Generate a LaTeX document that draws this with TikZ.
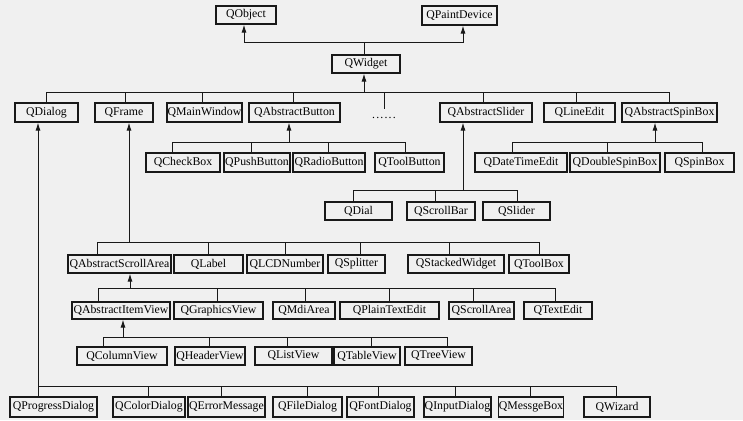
\documentclass[tikz,border=0pt]{standalone}
\usepackage{fontspec}
\setmainfont{Liberation Serif}
\usetikzlibrary{arrows.meta}
\newcommand\clsbox[6]{\node[cls, minimum width={#3pt-#2pt}, minimum height={#5pt-#4pt}] (#1) at ({(#2+#3)/2},{(#4+#5)/2}) {#6};}
\begin{document}
\begin{tikzpicture}[x=1pt,y=-1pt,
  cls/.style={draw=black!90, line width=1.1pt, inner sep=0pt, font=\fontsize{11.8}{13}\selectfont, text=black},
  link/.style={draw=black!90, line width=1pt},
  inh/.style={link, -{Latex[length=8pt,width=5pt]}}]
\fill[white!94!black] (0,0) rectangle (743,420);
\useasboundingbox (0,0) rectangle (743,420);
% top
\clsbox{QObject}{216}{276}{6}{24}{QObject}
\clsbox{QPaintDevice}{422}{497}{6}{25}{QPaintDevice}
\clsbox{QWidget}{332}{400}{55}{73}{QWidget}
% row 1
\clsbox{QDialog}{15}{78}{103}{122}{QDialog}
\clsbox{QFrame}{95}{153}{103}{122}{QFrame}
\clsbox{QMainWindow}{167}{242}{103}{122}{QMainWindow}
\clsbox{QAbstractButton}{249}{340}{103}{122}{QAbstractButton}
\clsbox{QAbstractSlider}{440}{532}{103}{122}{QAbstractSlider}
\clsbox{QLineEdit}{544}{615}{103}{122}{QLineEdit}
\clsbox{QAbstractSpinBox}{622}{717}{103}{122}{QAbstractSpinBox}
\node[font=\fontsize{11.8}{13}\selectfont, text=black, inner sep=0pt, anchor=base] (more) at (384,118) {.\kern1.2pt.\kern1.2pt.\kern1.2pt.\kern1.2pt.\kern1.2pt.};
% row 2
\clsbox{QCheckBox}{146}{220}{153}{172}{QCheckBox}
\clsbox{QPushButton}{224}{290}{153}{172}{QPushButton}
\clsbox{QRadioButton}{293}{365}{153}{172}{QRadioButton}
\clsbox{QToolButton}{375}{444}{153}{172}{QToolButton}
\clsbox{QDateTimeEdit}{475}{567}{153}{172}{QDateTimeEdit}
\clsbox{QDoubleSpinBox}{570}{660}{153}{172}{QDoubleSpinBox}
\clsbox{QSpinBox}{665}{734}{153}{172}{QSpinBox}
% row 3
\clsbox{QDial}{325}{392}{202}{220}{QDial}
\clsbox{QScrollBar}{407}{475}{202}{220}{QScrollBar}
\clsbox{QSlider}{483}{550}{202}{220}{QSlider}
% row 4
\clsbox{QAbstractScrollArea}{68}{171}{255}{273}{QAbstractScrollArea}
\clsbox{QLabel}{174}{243}{255}{273}{QLabel}
\clsbox{QLCDNumber}{247}{323}{255}{273}{QLCDNumber}
\clsbox{QSplitter}{328}{385}{255}{273}{QSplitter}
\clsbox{QStackedWidget}{408}{504}{255}{273}{QStackedWidget}
\clsbox{QToolBox}{509}{569}{255}{273}{QToolBox}
% row 5
\clsbox{QAbstractItemView}{72}{170}{302}{319}{QAbstractItemView}
\clsbox{QGraphicsView}{174}{263}{302}{319}{QGraphicsView}
\clsbox{QMdiArea}{273}{335}{302}{319}{QMdiArea}
\clsbox{QPlainTextEdit}{340}{439}{302}{319}{QPlainTextEdit}
\clsbox{QScrollArea}{449}{514}{302}{319}{QScrollArea}
\clsbox{QTextEdit}{524}{592}{302}{319}{QTextEdit}
% row 6
\clsbox{QColumnView}{77}{167}{347}{365}{QColumnView}
\clsbox{QHeaderView}{175}{245}{347}{365}{QHeaderView}
\clsbox{QListView}{255}{332}{347}{365}{QListView}
\clsbox{QTableView}{334}{400}{347}{365}{QTableView}
\clsbox{QTreeView}{405}{472}{347}{365}{QTreeView}
% row 7
\clsbox{QProgressDialog}{10}{97}{397}{417}{QProgressDialog}
\clsbox{QColorDialog}{113}{185}{397}{417}{QColorDialog}
\clsbox{QErrorMessage}{188}{265}{397}{417}{QErrorMessage}
\clsbox{QFileDialog}{273}{342}{397}{417}{QFileDialog}
\clsbox{QFontDialog}{347}{414}{397}{417}{QFontDialog}
\clsbox{QInputDialog}{424}{491}{397}{417}{QInputDialog}
\clsbox{QMessgeBox}{499}{563}{397}{417}{QMessgeBox}
\clsbox{QWizard}{584}{650}{397}{417}{QWizard}
% junctions
\coordinate (jW) at (364,43);
\coordinate (jWd) at (364,92);
\coordinate (jAB) at (289,142);
\coordinate (jSB) at (655,142);
\coordinate (jAS) at (463,190);
\coordinate (jF) at (129,242);
\coordinate (jSA) at (130,288);
\coordinate (jIV) at (123,337);
\coordinate (jD) at (38,386);
% QWidget -> QObject, QPaintDevice
\draw[link] ([xshift=-2pt]QWidget.north) -- (jW);
\draw[inh] (jW) -| ([xshift=-2pt]QObject.south);
\draw[inh] (jW) -| ([xshift=3.5pt]QPaintDevice.south);
% children of QWidget
\draw[inh] (jWd) -- (jWd |- QWidget.south);
\draw[link] (QDialog.north) |- (jWd);
\draw[link] ([xshift=1pt]QFrame.north) |- (jWd);
\draw[link] ([xshift=-2.5pt]QMainWindow.north) |- (jWd);
\draw[link] ([xshift=-1.5pt]QAbstractButton.north) |- (jWd);
\draw[link] ([yshift=8pt]more.north) |- (jWd);
\draw[link] ([xshift=-3pt]QAbstractSlider.north) |- (jWd);
\draw[link] ([xshift=-3.5pt]QLineEdit.north) |- (jWd);
\draw[link] (QAbstractSpinBox.north) |- (jWd);
% QAbstractButton
\draw[inh] (jAB) -- (jAB |- QAbstractButton.south);
\draw[link] ([xshift=-11pt]QCheckBox.north) |- (jAB);
\draw[link] ([xshift=-6pt]QPushButton.north) |- (jAB);
\draw[link] ([xshift=-1pt]QRadioButton.north) |- (jAB);
\draw[link] ([xshift=-4.5pt]QToolButton.north) |- (jAB);
% QAbstractSpinBox
\draw[inh] (jSB) -- (jSB |- QAbstractSpinBox.south);
\draw[link] ([xshift=-9pt]QDateTimeEdit.north) |- (jSB);
\draw[link] ([xshift=-8pt]QDoubleSpinBox.north) |- (jSB);
\draw[link] ([xshift=2.5pt]QSpinBox.north) |- (jSB);
% QAbstractSlider
\draw[inh] (jAS) -- (jAS |- QAbstractSlider.south);
\draw[link] ([xshift=-5.5pt]QDial.north) |- (jAS);
\draw[link] ([xshift=-6pt]QScrollBar.north) |- (jAS);
\draw[link] ([xshift=0.5pt]QSlider.north) |- (jAS);
% QFrame
\draw[inh] (jF) -- (jF |- QFrame.south);
\draw[link] ([xshift=-22.5pt]QAbstractScrollArea.north) |- (jF);
\draw[link] (QLabel.north) |- (jF);
\draw[link] (QLCDNumber.north) |- (jF);
\draw[link] ([xshift=3.5pt]QSplitter.north) |- (jF);
\draw[link] ([xshift=-7pt]QStackedWidget.north) |- (jF);
\draw[link] (QToolBox.north) |- (jF);
% QAbstractScrollArea
\draw[inh] (jSA) -- (jSA |- QAbstractScrollArea.south);
\draw[link] ([xshift=-23pt]QAbstractItemView.north) |- (jSA);
\draw[link] ([xshift=-1.5pt]QGraphicsView.north) |- (jSA);
\draw[link] ([xshift=1pt]QMdiArea.north) |- (jSA);
\draw[link] (QPlainTextEdit.north) |- (jSA);
\draw[link] ([xshift=-8.5pt]QScrollArea.north) |- (jSA);
\draw[link] ([xshift=-3pt]QTextEdit.north) |- (jSA);
% QAbstractItemView
\draw[inh] (jIV) -- (jIV |- QAbstractItemView.south);
\draw[link] ([xshift=-19pt]QColumnView.north) |- (jIV);
\draw[link] ([xshift=-1pt]QHeaderView.north) |- (jIV);
\draw[link] ([xshift=-6.5pt]QListView.north) |- (jIV);
\draw[link] ([xshift=4pt]QTableView.north) |- (jIV);
\draw[link] ([xshift=8.5pt]QTreeView.north) |- (jIV);
% QDialog
\draw[inh] (jD) -- (jD |- QDialog.south);
\draw[link] ([xshift=-15.5pt]QProgressDialog.north) |- (jD);
\draw[link] ([xshift=-1pt]QColorDialog.north) |- (jD);
\draw[link] ([xshift=-5.5pt]QErrorMessage.north) |- (jD);
\draw[link] (QFileDialog.north) |- (jD);
\draw[link] ([xshift=-2.5pt]QFontDialog.north) |- (jD);
\draw[link] ([xshift=-2.5pt]QInputDialog.north) |- (jD);
\draw[link] ([xshift=-1pt]QMessgeBox.north) |- (jD);
\draw[link] ([xshift=-1pt]QWizard.north) |- (jD);
\end{tikzpicture}
\end{document}
